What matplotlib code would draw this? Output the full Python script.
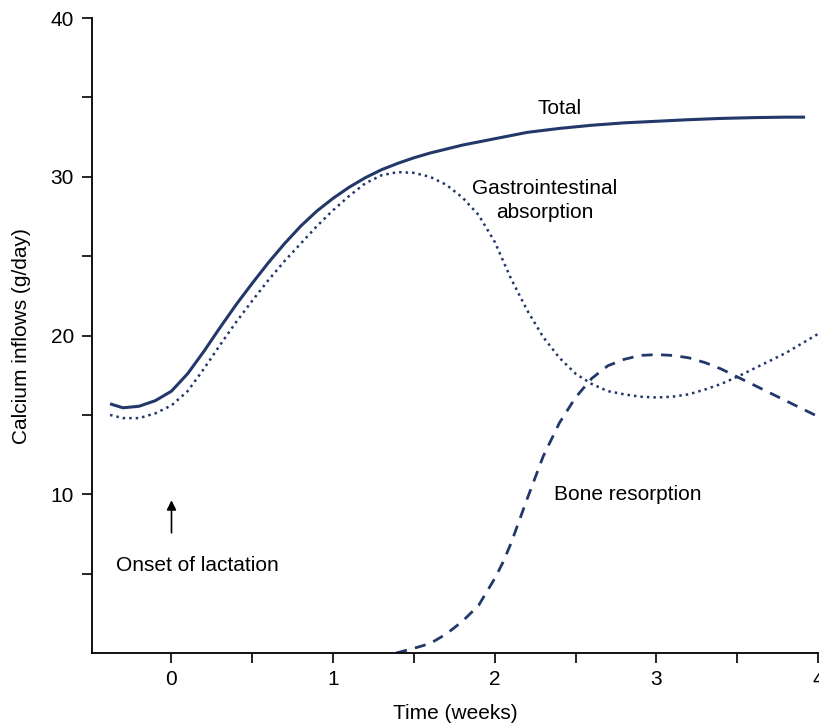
import matplotlib
matplotlib.use("Agg")
import matplotlib.pyplot as plt
from matplotlib.ticker import MultipleLocator

plt.rcParams['font.family'] = ['Liberation Sans', 'DejaVu Sans']

# weeks relative to onset of lactation, calcium inflow in g/day
total_x = [-0.38, -0.3, -0.2, -0.1, 0, 0.1, 0.2, 0.3, 0.4, 0.5, 0.6, 0.7, 0.8, 0.9, 1.0,
           1.1, 1.2, 1.3, 1.4, 1.5, 1.6, 1.8, 2.0, 2.2, 2.4, 2.6, 2.8, 3.0, 3.2, 3.4,
           3.6, 3.8, 3.92]
total_y = [15.7, 15.45, 15.55, 15.9, 16.5, 17.6, 19.0, 20.5, 21.95, 23.3, 24.6, 25.8, 26.9,
           27.85, 28.65, 29.35, 29.95, 30.45, 30.85, 31.2, 31.5, 32.0, 32.4, 32.8, 33.05, 33.25,
           33.4, 33.5, 33.6, 33.68, 33.73, 33.76, 33.76]

gi_x = [-0.38, -0.3, -0.2, -0.1, 0, 0.1, 0.2, 0.3, 0.4, 0.5, 0.6, 0.7, 0.8, 0.9, 1.0,
        1.1, 1.2, 1.3, 1.4, 1.5, 1.6, 1.7, 1.8, 1.9, 2.0, 2.1, 2.2, 2.3, 2.4, 2.5, 2.6,
        2.7, 2.8, 2.9, 3.0, 3.1, 3.2, 3.3, 3.4, 3.5, 3.6, 3.7, 3.8, 3.9, 4.0]
gi_y = [15.0, 14.8, 14.8, 15.1, 15.6, 16.5, 17.9, 19.4, 20.85, 22.2, 23.5, 24.7, 25.8, 26.9,
        27.9, 28.8, 29.6, 30.1, 30.3, 30.25, 30.0, 29.5, 28.7, 27.6, 25.9, 23.6, 21.6, 19.9,
        18.6, 17.6, 16.95, 16.5, 16.3, 16.15, 16.1, 16.15, 16.3, 16.6, 16.95, 17.4, 17.9,
        18.4, 18.9, 19.5, 20.1]

bone_x = [1.39, 1.5, 1.6, 1.7, 1.8, 1.9, 2.0, 2.05, 2.1, 2.2, 2.3, 2.4, 2.5, 2.6, 2.7,
          2.8, 2.9, 3.0, 3.1, 3.2, 3.3, 3.4, 3.5, 3.6, 3.7, 3.8, 3.9, 4.0]
bone_y = [0.0, 0.3, 0.6, 1.2, 2.0, 3.0, 4.7, 5.7, 6.9, 9.7, 12.4, 14.5, 16.1, 17.3, 18.1,
          18.5, 18.75, 18.8, 18.75, 18.6, 18.3, 17.9, 17.4, 16.9, 16.4, 15.9, 15.4, 14.9]

navy = '#22386a'
fs = 15

fig = plt.figure(figsize=(8.19, 7.24), dpi=100)
ax = fig.add_axes([0.1123, 0.098, 0.8865, 0.877])

ax.plot(total_x, total_y, color=navy, lw=2.2, solid_capstyle='butt')
ax.plot(gi_x, gi_y, color=navy, lw=1.8, linestyle=(0, (1, 1.6)))
ax.plot(bone_x, bone_y, color=navy, lw=2.0, linestyle=(0, (4, 3)))

ax.set_xlim(-0.492, 4.0)
ax.set_ylim(0, 40)
ax.xaxis.set_major_locator(MultipleLocator(1))
ax.xaxis.set_minor_locator(MultipleLocator(0.5))
ax.set_yticks([10, 20, 30, 40])
ax.set_yticks([5, 15, 25, 35], minor=True)
ax.tick_params(which='both', direction='out', length=7, width=1.2, labelsize=fs)
ax.tick_params(axis='x', pad=5)
ax.tick_params(axis='y', pad=6)

for s in ['top', 'right']:
    ax.spines[s].set_visible(False)
for s in ['left', 'bottom']:
    ax.spines[s].set_linewidth(1.3)

ax.set_xlabel('Time (weeks)', fontsize=fs, labelpad=11)
ax.set_ylabel('Calcium inflows (g/day)', fontsize=fs, labelpad=14)

ax.text(2.4, 34.3, 'Total', fontsize=fs, ha='center', va='center')
ax.text(2.31, 28.5, 'Gastrointestinal\nabsorption', fontsize=fs, ha='center', va='center',
        linespacing=1.35)
ax.text(2.82, 10.0, 'Bone resorption', fontsize=fs, ha='center', va='center')
ax.text(0.16, 5.5, 'Onset of lactation', fontsize=fs, ha='center', va='center')
ax.annotate('', xy=(0, 9.8), xytext=(0, 7.4),
            arrowprops=dict(arrowstyle='-|>', color='black', lw=1.2, mutation_scale=14))

fig.savefig('out.png', dpi=100)
